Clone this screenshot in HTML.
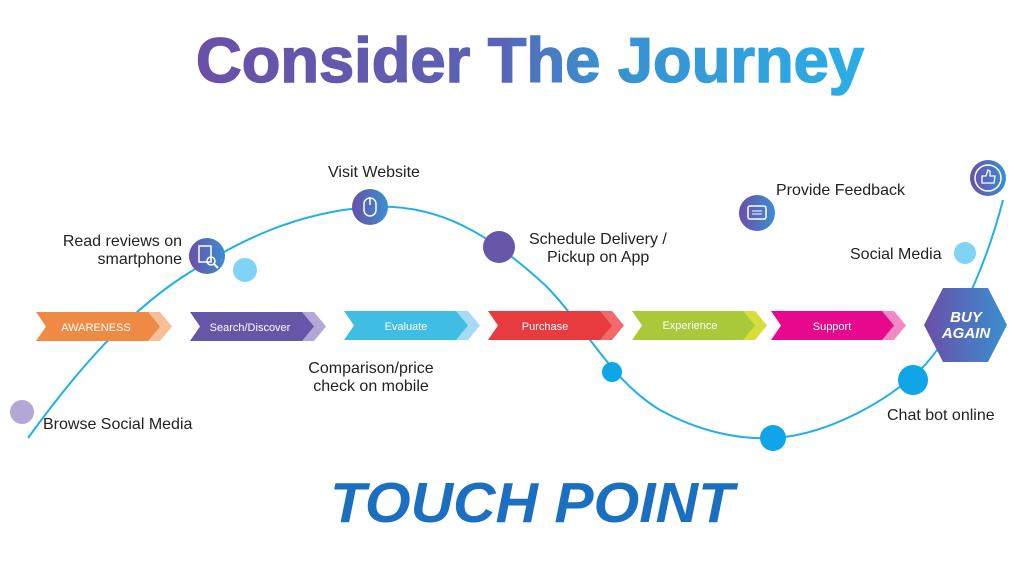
<!DOCTYPE html>
<html><head><style>
body{margin:0;width:1024px;height:559px;background:#fff;overflow:hidden;font-family:"Liberation Sans",sans-serif}
</style></head><body>
<svg width="1024" height="559" viewBox="0 0 1024 559" xmlns="http://www.w3.org/2000/svg">
<defs>
<linearGradient id="tg" x1="0" x2="1"><stop offset="0" stop-color="#6a4fa8"/><stop offset="0.45" stop-color="#5a62b5"/><stop offset="0.6" stop-color="#3a8fd0"/><stop offset="1" stop-color="#2aaee6"/></linearGradient>
<linearGradient id="ig" x1="0" x2="1"><stop offset="0" stop-color="#6a4fa8"/><stop offset="1" stop-color="#3a8fd0"/></linearGradient>
</defs>
<text x="530" y="82" text-anchor="middle" font-size="63" font-weight="bold" fill="url(#tg)" stroke="url(#tg)" stroke-width="1.5" textLength="668" lengthAdjust="spacingAndGlyphs">Consider The Journey</text>
<path d="M28,438 C70,380 120,320 175,282 C240,238 300,212 370,207 C440,203 490,235 545,285 C585,325 610,380 660,410 C700,432 740,440 775,438 C830,434 890,400 925,365 C965,320 990,250 1003,200" fill="none" stroke="#1fb0ea" stroke-width="2"/>
<g font-size="11" fill="#fff" text-anchor="middle">
<g><path d="M148,312 L160,312 L172,326.5 L160,341 L148,341Z" fill="#f6bf97"/><path d="M36,312 L148,312 L160,326.5 L148,341 L36,341 L46,326.5Z" fill="#ef8a44"/><text x="96" y="331">AWARENESS</text></g>
<g><path d="M302,312 L314,312 L326,326.5 L314,341 L302,341Z" fill="#b2a7d6"/><path d="M190,312 L302,312 L314,326.5 L302,341 L190,341 L200,326.5Z" fill="#6656a8"/><text x="250" y="331">Search/Discover</text></g>
<g><path d="M456,311 L468,311 L480,325.5 L468,340 L456,340Z" fill="#a6dbf3"/><path d="M344,311 L456,311 L468,325.5 L456,340 L344,340 L354,325.5Z" fill="#3fbde2"/><text x="406" y="330">Evaluate</text></g>
<g><path d="M600,311 L612,311 L624,325.5 L612,340 L600,340Z" fill="#ef6a6a"/><path d="M488,311 L600,311 L612,325.5 L600,340 L488,340 L498,325.5Z" fill="#e73b3f"/><text x="545" y="330">Purchase</text></g>
<g><path d="M743,311 L755,311 L767,325.5 L755,340 L743,340Z" fill="#d4df3c"/><path d="M632,311 L743,311 L755,325.5 L743,340 L632,340 L642,325.5Z" fill="#a9c93a"/><text x="690" y="329">Experience</text></g>
<g><path d="M882,311 L894,311 L906,325.5 L894,340 L882,340Z" fill="#f08ac4"/><path d="M771,311 L882,311 L894,325.5 L882,340 L771,340 L781,325.5Z" fill="#e7098d"/><text x="832" y="330">Support</text></g>
</g>
<path d="M943,288 L988,288 L1007,325 L988,362 L943,362 L924,325Z" fill="url(#ig)"/>
<text x="966" y="322" text-anchor="middle" font-size="15" font-weight="bold" font-style="italic" fill="#fff">BUY</text>
<text x="966" y="338" text-anchor="middle" font-size="15" font-weight="bold" font-style="italic" fill="#fff">AGAIN</text>
<circle cx="22" cy="412" r="12" fill="#b2a7d6"/>
<circle cx="245" cy="270" r="12" fill="#7fd3f5"/>
<circle cx="207" cy="256" r="18" fill="url(#ig)"/>
<rect x="199" y="246" width="12" height="16" fill="none" stroke="#fff" stroke-width="1.5"/><circle cx="211" cy="261" r="4" fill="none" stroke="#fff" stroke-width="1.5"/><line x1="214" y1="264" x2="218" y2="268" stroke="#fff" stroke-width="2"/>
<circle cx="370" cy="207" r="18" fill="url(#ig)"/>
<rect x="364" y="198" width="12" height="18" rx="6" fill="none" stroke="#fff" stroke-width="1.5"/><line x1="370" y1="198" x2="370" y2="205" stroke="#fff" stroke-width="1.5"/>
<circle cx="499" cy="247" r="16" fill="#6656a8"/>
<circle cx="612" cy="372" r="10" fill="#0ea5e9"/>
<circle cx="773" cy="438" r="13" fill="#0ea5e9"/>
<circle cx="913" cy="380" r="15" fill="#0ea5e9"/>
<circle cx="757" cy="213" r="18" fill="url(#ig)"/>
<rect x="748" y="206" width="18" height="13" rx="2" fill="none" stroke="#fff" stroke-width="1.5"/><line x1="752" y1="211" x2="762" y2="211" stroke="#fff"/><line x1="752" y1="214" x2="762" y2="214" stroke="#fff"/>
<circle cx="988" cy="178" r="18" fill="url(#ig)"/>
<circle cx="988" cy="178" r="13" fill="none" stroke="#fff" stroke-width="1.5"/><path d="M982,183 L982,176 L986,176 L988,170 L990,171 L990,176 L995,176 L994,183Z" fill="none" stroke="#fff" stroke-width="1.3"/>
<circle cx="965" cy="253" r="11" fill="#7fd3f5"/>
<g font-size="16" fill="#222">
<text x="374" y="177" text-anchor="middle">Visit Website</text>
<text x="182" y="246" text-anchor="end">Read reviews on</text>
<text x="182" y="264" text-anchor="end">smartphone</text>
<text x="529" y="244">Schedule Delivery /</text>
<text x="547" y="262">Pickup on App</text>
<text x="776" y="195">Provide Feedback</text>
<text x="850" y="259">Social Media</text>
<text x="371" y="373" text-anchor="middle">Comparison/price</text>
<text x="371" y="391" text-anchor="middle">check on mobile</text>
<text x="43" y="429">Browse Social Media</text>
<text x="887" y="420">Chat bot online</text>
</g>
<text x="532" y="522" text-anchor="middle" font-size="57" font-weight="bold" font-style="italic" fill="#1b6fc0" textLength="404" lengthAdjust="spacingAndGlyphs">TOUCH POINT</text>
</svg>
</body></html>
